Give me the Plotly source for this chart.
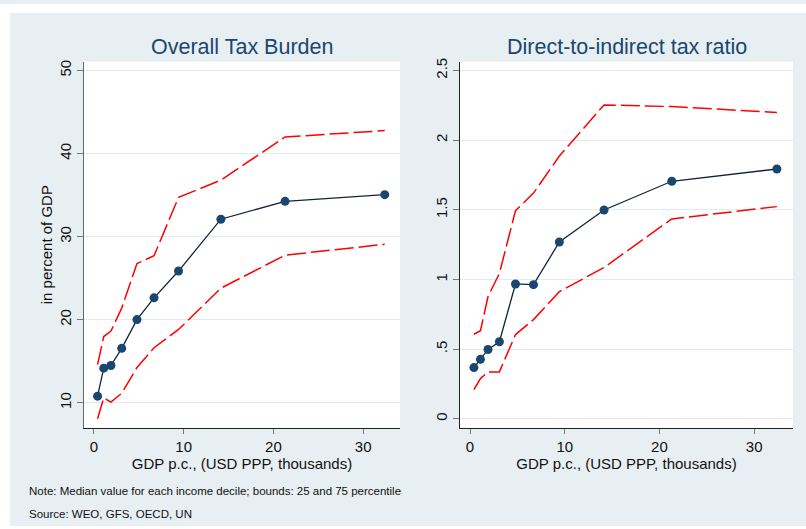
import plotly.graph_objects as go

# ---- data ----
gdp = [0.41, 1.1, 1.9, 3.1, 4.8, 6.7, 9.43, 14.15, 21.3, 32.4]

tax_median = [10.8, 14.17, 14.49, 16.56, 20.02, 22.64, 25.86, 32.1, 34.25, 35.05]
tax_p75 = [14.6, 17.98, 18.63, 21.4, 26.76, 27.7, 34.73, 36.8, 42.0, 42.76]
tax_p25 = [8.09, 10.6, 10.08, 11.15, 14.25, 16.63, 18.83, 23.8, 27.77, 29.08]

ratio_median = [0.368, 0.427, 0.498, 0.553, 0.968, 0.963, 1.269, 1.499, 1.705, 1.793]
ratio_p75 = [0.607, 0.633, 0.878, 1.044, 1.494, 1.62, 1.886, 2.253, 2.241, 2.199]
ratio_p25 = [0.209, 0.289, 0.337, 0.337, 0.605, 0.712, 0.913, 1.086, 1.435, 1.523]

left_yticks = [10, 20, 30, 40, 50]
left_yticklabels = ["10", "20", "30", "40", "50"]
right_yticks = [0, 0.5, 1, 1.5, 2, 2.5]
right_yticklabels = ["0", ".5", "1", "1.5", "2", "2.5"]
xticks = [0, 10, 20, 30]

titles = ["Overall Tax Burden", "Direct-to-indirect tax ratio"]
xtitle = "GDP p.c., (USD PPP, thousands)"
ytitle = "in percent of GDP"
note = "Note: Median value for each income decile; bounds: 25 and 75 percentile"
source = "Source: WEO, GFS, OECD, UN"

# ---- styling ----
W, H = 806, 529
BG = "#e7eff2"
GRID = "#e2ecef"
NAVY = "#1a476f"
RED = "#ff0000"
FONT = "Liberation Sans, Arial, sans-serif"

def px_x(p):
    return p / W

def px_y(p):
    return 1 - p / H

fig = go.Figure()

def add_panel(xa, ya, med, lo, hi):
    for band in (hi, lo):
        fig.add_trace(go.Scatter(
            x=gdp, y=band, mode="lines", xaxis=xa, yaxis=ya,
            line=dict(color=RED, width=1.5, dash="19px,5px"),
            showlegend=False, hoverinfo="skip"))
    fig.add_trace(go.Scatter(
        x=gdp, y=med, mode="lines+markers", xaxis=xa, yaxis=ya,
        line=dict(color="#14233a", width=1.3),
        marker=dict(color=NAVY, size=9),
        showlegend=False))

add_panel("x", "y", tax_median, tax_p25, tax_p75)
add_panel("x2", "y2", ratio_median, ratio_p25, ratio_p75)

y_dom = [px_y(427), px_y(58)]

common_x = dict(
    tickmode="array", tickvals=xticks, ticks="outside", ticklen=5,
    tickcolor="#777777", showgrid=False, zeroline=False, showline=True,
    linecolor="#222222", linewidth=1.2,
    tickfont=dict(family=FONT, size=15, color="#111111"),
    title=dict(text=xtitle, font=dict(family=FONT, size=15, color="#111111"),
               standoff=0),
)
common_y = dict(
    ticks="outside", ticklen=6, tickcolor="#777777", tickangle=-90,
    showgrid=True, gridcolor=GRID, gridwidth=1, zeroline=False,
    showline=True, linewidth=1.2,
    tickfont=dict(family=FONT, size=15, color="#111111"),
)

fig.update_layout(
    width=W, height=H,
    margin=dict(l=0, r=0, t=0, b=0),
    paper_bgcolor=BG, plot_bgcolor="white",
    font=dict(family=FONT),
    xaxis=dict(domain=[px_x(84), px_x(400)], range=[-1.1, 34.1],
               anchor="y", **common_x),
    yaxis=dict(domain=y_dom, range=[7.0, 51.07], anchor="x",
               tickmode="array", tickvals=left_yticks,
               ticktext=left_yticklabels, linecolor="#666666",
               title=dict(text=ytitle,
                          font=dict(family=FONT, size=15, color="#111111"),
                          standoff=0),
               **common_y),
    xaxis2=dict(domain=[px_x(460), px_x(793)], range=[-1.06, 34.1],
                anchor="y2", **common_x),
    yaxis2=dict(domain=y_dom, range=[-0.064, 2.564], anchor="x2",
                tickmode="array", tickvals=right_yticks,
                ticktext=right_yticklabels, linecolor="#222222",
                **common_y),
)

annotations = []
for title, (a, b) in zip(titles, [(84, 400), (460, 793)]):
    annotations.append(dict(
        text=title, xref="paper", yref="paper",
        x=px_x((a + b) / 2), y=px_y(43), xanchor="center", yanchor="middle",
        showarrow=False, font=dict(family=FONT, size=21.5, color=NAVY)))
for txt, yy in [(note, 491), (source, 514)]:
    annotations.append(dict(
        text=txt, xref="paper", yref="paper",
        x=px_x(27), y=px_y(yy), xanchor="left", yanchor="middle",
        showarrow=False,
        font=dict(family=FONT, size=11.5, color="#111111")))
fig.update_layout(annotations=annotations)

# white border strips of the original image
shapes = [
    dict(type="rect", xref="paper", yref="paper", x0=0, x1=1,
         y0=px_y(9), y1=1, fillcolor="white", line=dict(width=0), layer="above"),
    dict(type="rect", xref="paper", yref="paper", x0=0, x1=px_x(10),
         y0=0, y1=1, fillcolor="white", line=dict(width=0), layer="above"),
    dict(type="rect", xref="paper", yref="paper", x0=0, x1=1,
         y0=0, y1=px_y(526), fillcolor="white", line=dict(width=0), layer="above"),
]
fig.update_layout(shapes=shapes)

fig.write_html("out.html",
               config={"displayModeBar": False},
               post_script="document.body.style.margin='0';")
